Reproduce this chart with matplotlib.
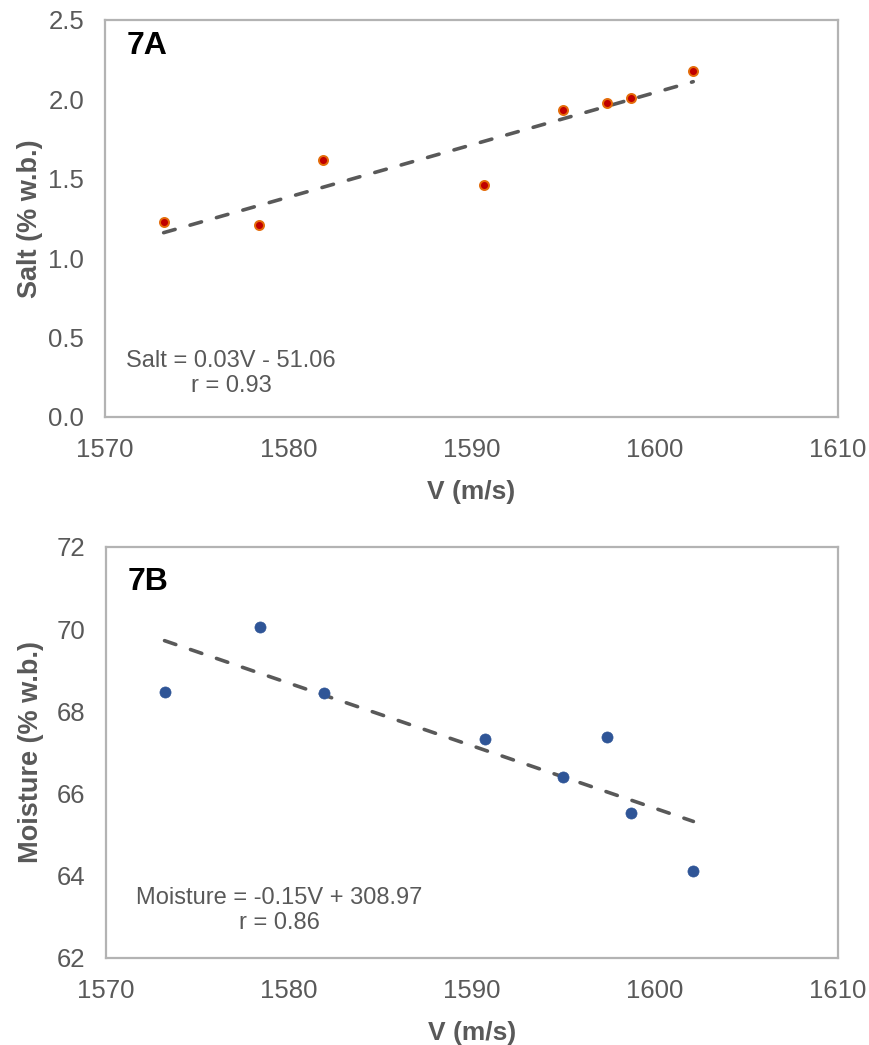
import matplotlib
matplotlib.use("Agg")
import matplotlib.pyplot as plt
import numpy as np

plt.rcParams['font.family'] = ['Liberation Sans', 'DejaVu Sans']

velocity = [1573.2, 1578.4, 1581.9, 1590.7, 1595.0, 1597.4, 1598.7, 1602.1]
salt = [1.23, 1.21, 1.62, 1.46, 1.93, 1.98, 2.01, 2.18]
moisture = [68.48, 70.05, 68.45, 67.32, 66.40, 67.37, 65.52, 64.11]

x_ticks = [1570, 1580, 1590, 1600, 1610]
salt_ticks = [0.0, 0.5, 1.0, 1.5, 2.0, 2.5]
moist_ticks = [62, 64, 66, 68, 70, 72]

gray = "#595959"
frame = "#B3B3B3"


def style_axes(ax, yticks, yfmt, ylabel):
    ax.set_xlim(1570, 1610)
    ax.set_ylim(yticks[0], yticks[-1])
    ax.set_xticks(x_ticks)
    ax.set_yticks(yticks)
    ax.set_yticklabels([yfmt.format(t) for t in yticks])
    for s in ax.spines.values():
        s.set_color(frame)
        s.set_linewidth(1.6)
    ax.tick_params(length=0, labelsize=18.5, colors=gray, pad=15)
    ax.set_xlabel("V (m/s)", fontsize=19, fontweight="bold", color=gray, labelpad=13)
    ax.set_ylabel(ylabel, fontsize=19.5, fontweight="bold", color=gray)
    ax.yaxis.set_label_coords(-0.084, 0.5)


def trend(ax, x, y):
    x = np.asarray(x)
    k, b = np.polyfit(x, y, 1)
    xs = np.array([x.min(), x.max()])
    ax.plot(xs, k * xs + b, color=gray, lw=2.6, linestyle=(0, (3.3, 4.3)),
            dash_capstyle="round", zorder=2)


fig = plt.figure(figsize=(8.7, 10.45), dpi=100)

# 7A - salt
ax1 = fig.add_axes([0.1207, 0.6010, 0.8425, 0.3799])
style_axes(ax1, salt_ticks, "{:.1f}", "Salt (% w.b.)")
trend(ax1, velocity, salt)
ax1.plot(velocity, salt, "o", ms=6.5, mfc="#C00000", mec="#E46C0A", mew=1.4,
         linestyle="none", zorder=3)
ax1.text(0.03, 0.935, "7A", transform=ax1.transAxes, fontsize=23,
         fontweight="bold", va="center", ha="left")
ax1.text(0.172, 0.11, "Salt = 0.03V - 51.06\nr = 0.93", transform=ax1.transAxes,
         fontsize=17, color=gray, ha="center", va="center", linespacing=1.15)

# 7B - moisture
ax2 = fig.add_axes([0.1218, 0.0833, 0.8414, 0.3933])
style_axes(ax2, moist_ticks, "{:d}", "Moisture (% w.b.)")
trend(ax2, velocity, moisture)
ax2.plot(velocity, moisture, "o", ms=8, mfc="#2F5597", mec="#2F5597", mew=0.5,
         linestyle="none", zorder=3)
ax2.text(0.03, 0.915, "7B", transform=ax2.transAxes, fontsize=23,
         fontweight="bold", va="center", ha="left")
ax2.text(0.237, 0.115, "Moisture = -0.15V + 308.97\nr = 0.86", transform=ax2.transAxes,
         fontsize=17, color=gray, ha="center", va="center", linespacing=1.15)

fig.savefig("out.png", dpi=100)
